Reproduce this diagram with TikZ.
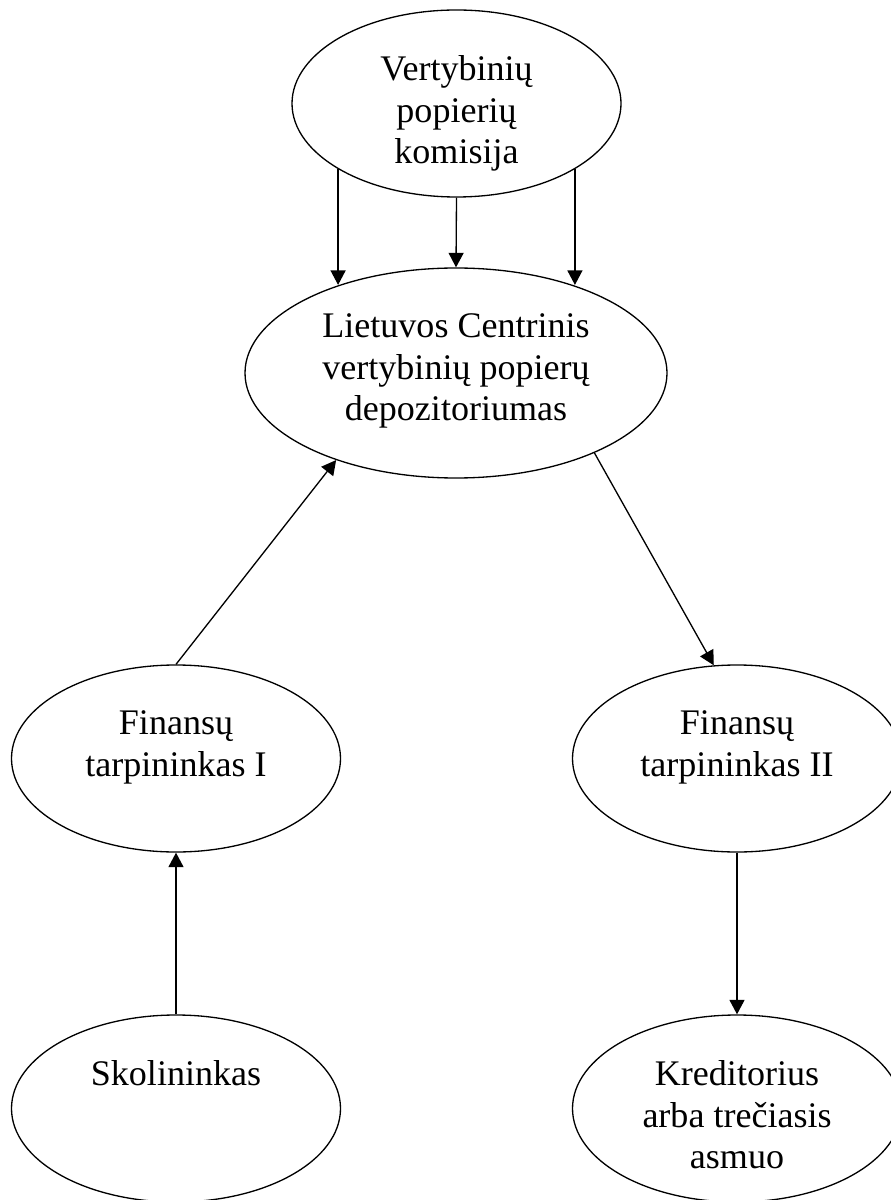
\documentclass[tikz,border=0pt]{standalone}
\usepackage{fontspec}
\setmainfont{Liberation Serif}
\usetikzlibrary{positioning,shapes.geometric,arrows.meta}

\begin{document}
\begin{tikzpicture}[
  oval/.style={ellipse,draw,black,line width=0.75pt,inner sep=0pt,minimum width=6.58cm,minimum height=3.74cm},
  txt/.style={inner sep=0pt,align=center,font=\fontsize{20.5}{23.6}\selectfont},
  arr/.style={line width=0.75pt,-{Triangle[length=0.29cm,width=0.3cm]}}
 ]
 \useasboundingbox[fill=white] (0,0) rectangle (17.82,-24);

 %Ellipses
 \node (VPK) [oval] at (9.13,-2.07) {};
 \node (LCVPD) [oval,minimum width=8.44cm,minimum height=4.2cm] at (9.12,-7.46) {};
 \node (FTI) [oval] at (3.52,-15.17) {};
 \node (FTII) [oval] at (14.74,-15.17) {};
 \node (SKOL) [oval] at (3.52,-22.17) {};
 \node (KRED) [oval] at (14.74,-22.17) {};

 %Name
 \node (VPKtext) [txt,below=0.92cm of VPK.north] {Vertybinių\\popierių\\komisija};
 \node (LCVPDtext) [txt,below=0.92cm of LCVPD.north] {Lietuvos Centrinis\\vertybinių popierų\\depozitoriumas};
 \node (FTItext) [txt,below=0.92cm of FTI.north] {Finansų\\tarpininkas I};
 \node (FTIItext) [txt,below=0.92cm of FTII.north] {Finansų\\tarpininkas II};
 \node (SKOLtext) [txt,below=0.92cm of SKOL.north] {Skolininkas};
 \node (KREDtext) [txt,below=0.92cm of KRED.north] {Kreditorius\\arba trečiasis\\asmuo};

 %Arrows
 \draw[arr] (VPK.209) -- (VPK.209 |- LCVPD.143);
 \draw[arr] (VPK.south) -- (LCVPD.north);
 \draw[arr] (VPK.-29) -- (VPK.-29 |- LCVPD.37);

 \draw[arr] (FTI.north) -- (LCVPD.216);
 \draw[arr] (LCVPD.-30) -- (FTII.104);

 \draw[arr] (SKOL.north) -- (FTI.south);
 \draw[arr] (FTII.south) -- (KRED.north);

\end{tikzpicture}
\end{document}
